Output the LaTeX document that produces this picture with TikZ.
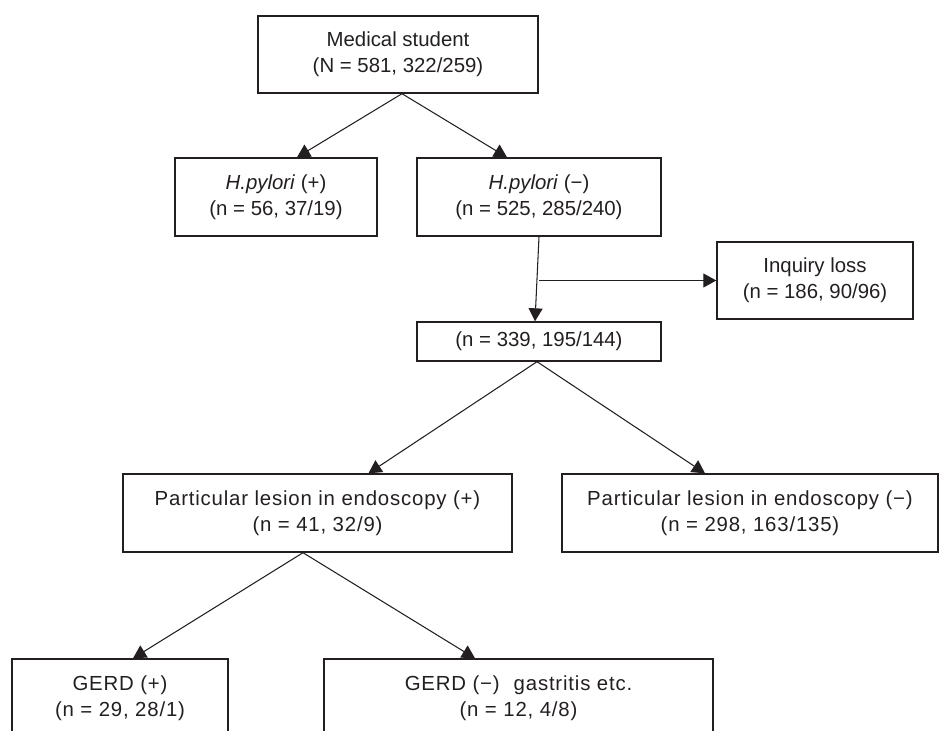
\documentclass[tikz,border=0pt]{standalone}
\usepackage{fontspec}
\setmainfont{Liberation Sans}
\usetikzlibrary{arrows.meta}
\definecolor{flowink}{RGB}{35,31,32}

\begin{document}
\begin{tikzpicture}[x=0.02cm, y=-0.02cm,
    box/.style={draw=flowink, line width=0.8pt, align=center, inner sep=0pt, text=flowink, font=\fontsize{11.6}{14.8}\selectfont},
    widebox/.style={box, font=\fontsize{11.6}{14.8}\selectfont\addfontfeature{LetterSpace=4}},
    arr/.style={draw=flowink, line width=0.6pt, -{Triangle[width=0.28cm, length=0.26cm]}}]
    \useasboundingbox (0,0) rectangle (941,731);

    \node[box, minimum width=5.6cm, minimum height=1.54cm] (student) at (398,54.5) {Medical student\\(N = 581, 322/259)};
    \node[box, minimum width=4.04cm, minimum height=1.56cm] (hpplus) at (276,197) {\textit{H.pylori} (+)\\(n = 56, 37/19)};
    \node[box, minimum width=4.88cm, minimum height=1.56cm] (hpminus) at (539,197) {\textit{H.pylori} (−)\\(n = 525, 285/240)};
    \node[box, minimum width=3.92cm, minimum height=1.54cm] (loss) at (815,280.5) {Inquiry loss\\(n = 186, 90/96)};
    \node[box, minimum width=4.88cm, minimum height=0.78cm] (remain) at (539,341.5) {(n = 339, 195/144)};
    \node[widebox, minimum width=7.78cm, minimum height=1.56cm] (lesplus) at (317.5,513) {Particular lesion in endoscopy (+)\\(n = 41, 32/9)};
    \node[widebox, minimum width=7.52cm, minimum height=1.56cm] (lesminus) at (750,513) {Particular lesion in endoscopy (−)\\(n = 298, 163/135)};
    \node[widebox, minimum width=4.32cm, minimum height=1.56cm] (gerdplus) at (120,698) {GERD (+)\\(n = 29, 28/1)};
    \node[widebox, minimum width=7.78cm, minimum height=1.56cm] (gerdminus) at (518.5,698) {GERD (−)\hspace{8pt}gastritis etc.\\(n = 12, 4/8)};

    \draw[arr] ([xshift=0.08cm]student.south) -- ([xshift=0.42cm]hpplus.north);
    \draw[arr] ([xshift=0.08cm]student.south) -- ([xshift=-0.64cm]hpminus.north);
    \draw[arr] (hpminus.south) -- ([xshift=-0.08cm]remain.north);
    \draw[arr] (hpminus.south |- loss.west) -- (loss.west);
    \draw[arr] ([xshift=-0.04cm]remain.south) -- ([xshift=1.02cm]lesplus.north);
    \draw[arr] ([xshift=-0.04cm]remain.south) -- ([xshift=-0.9cm]lesminus.north);
    \draw[arr] ([xshift=-0.29cm]lesplus.south) -- ([xshift=0.26cm]gerdplus.north);
    \draw[arr] ([xshift=-0.29cm]lesplus.south) -- ([xshift=-0.87cm]gerdminus.north);
\end{tikzpicture}
\end{document}
